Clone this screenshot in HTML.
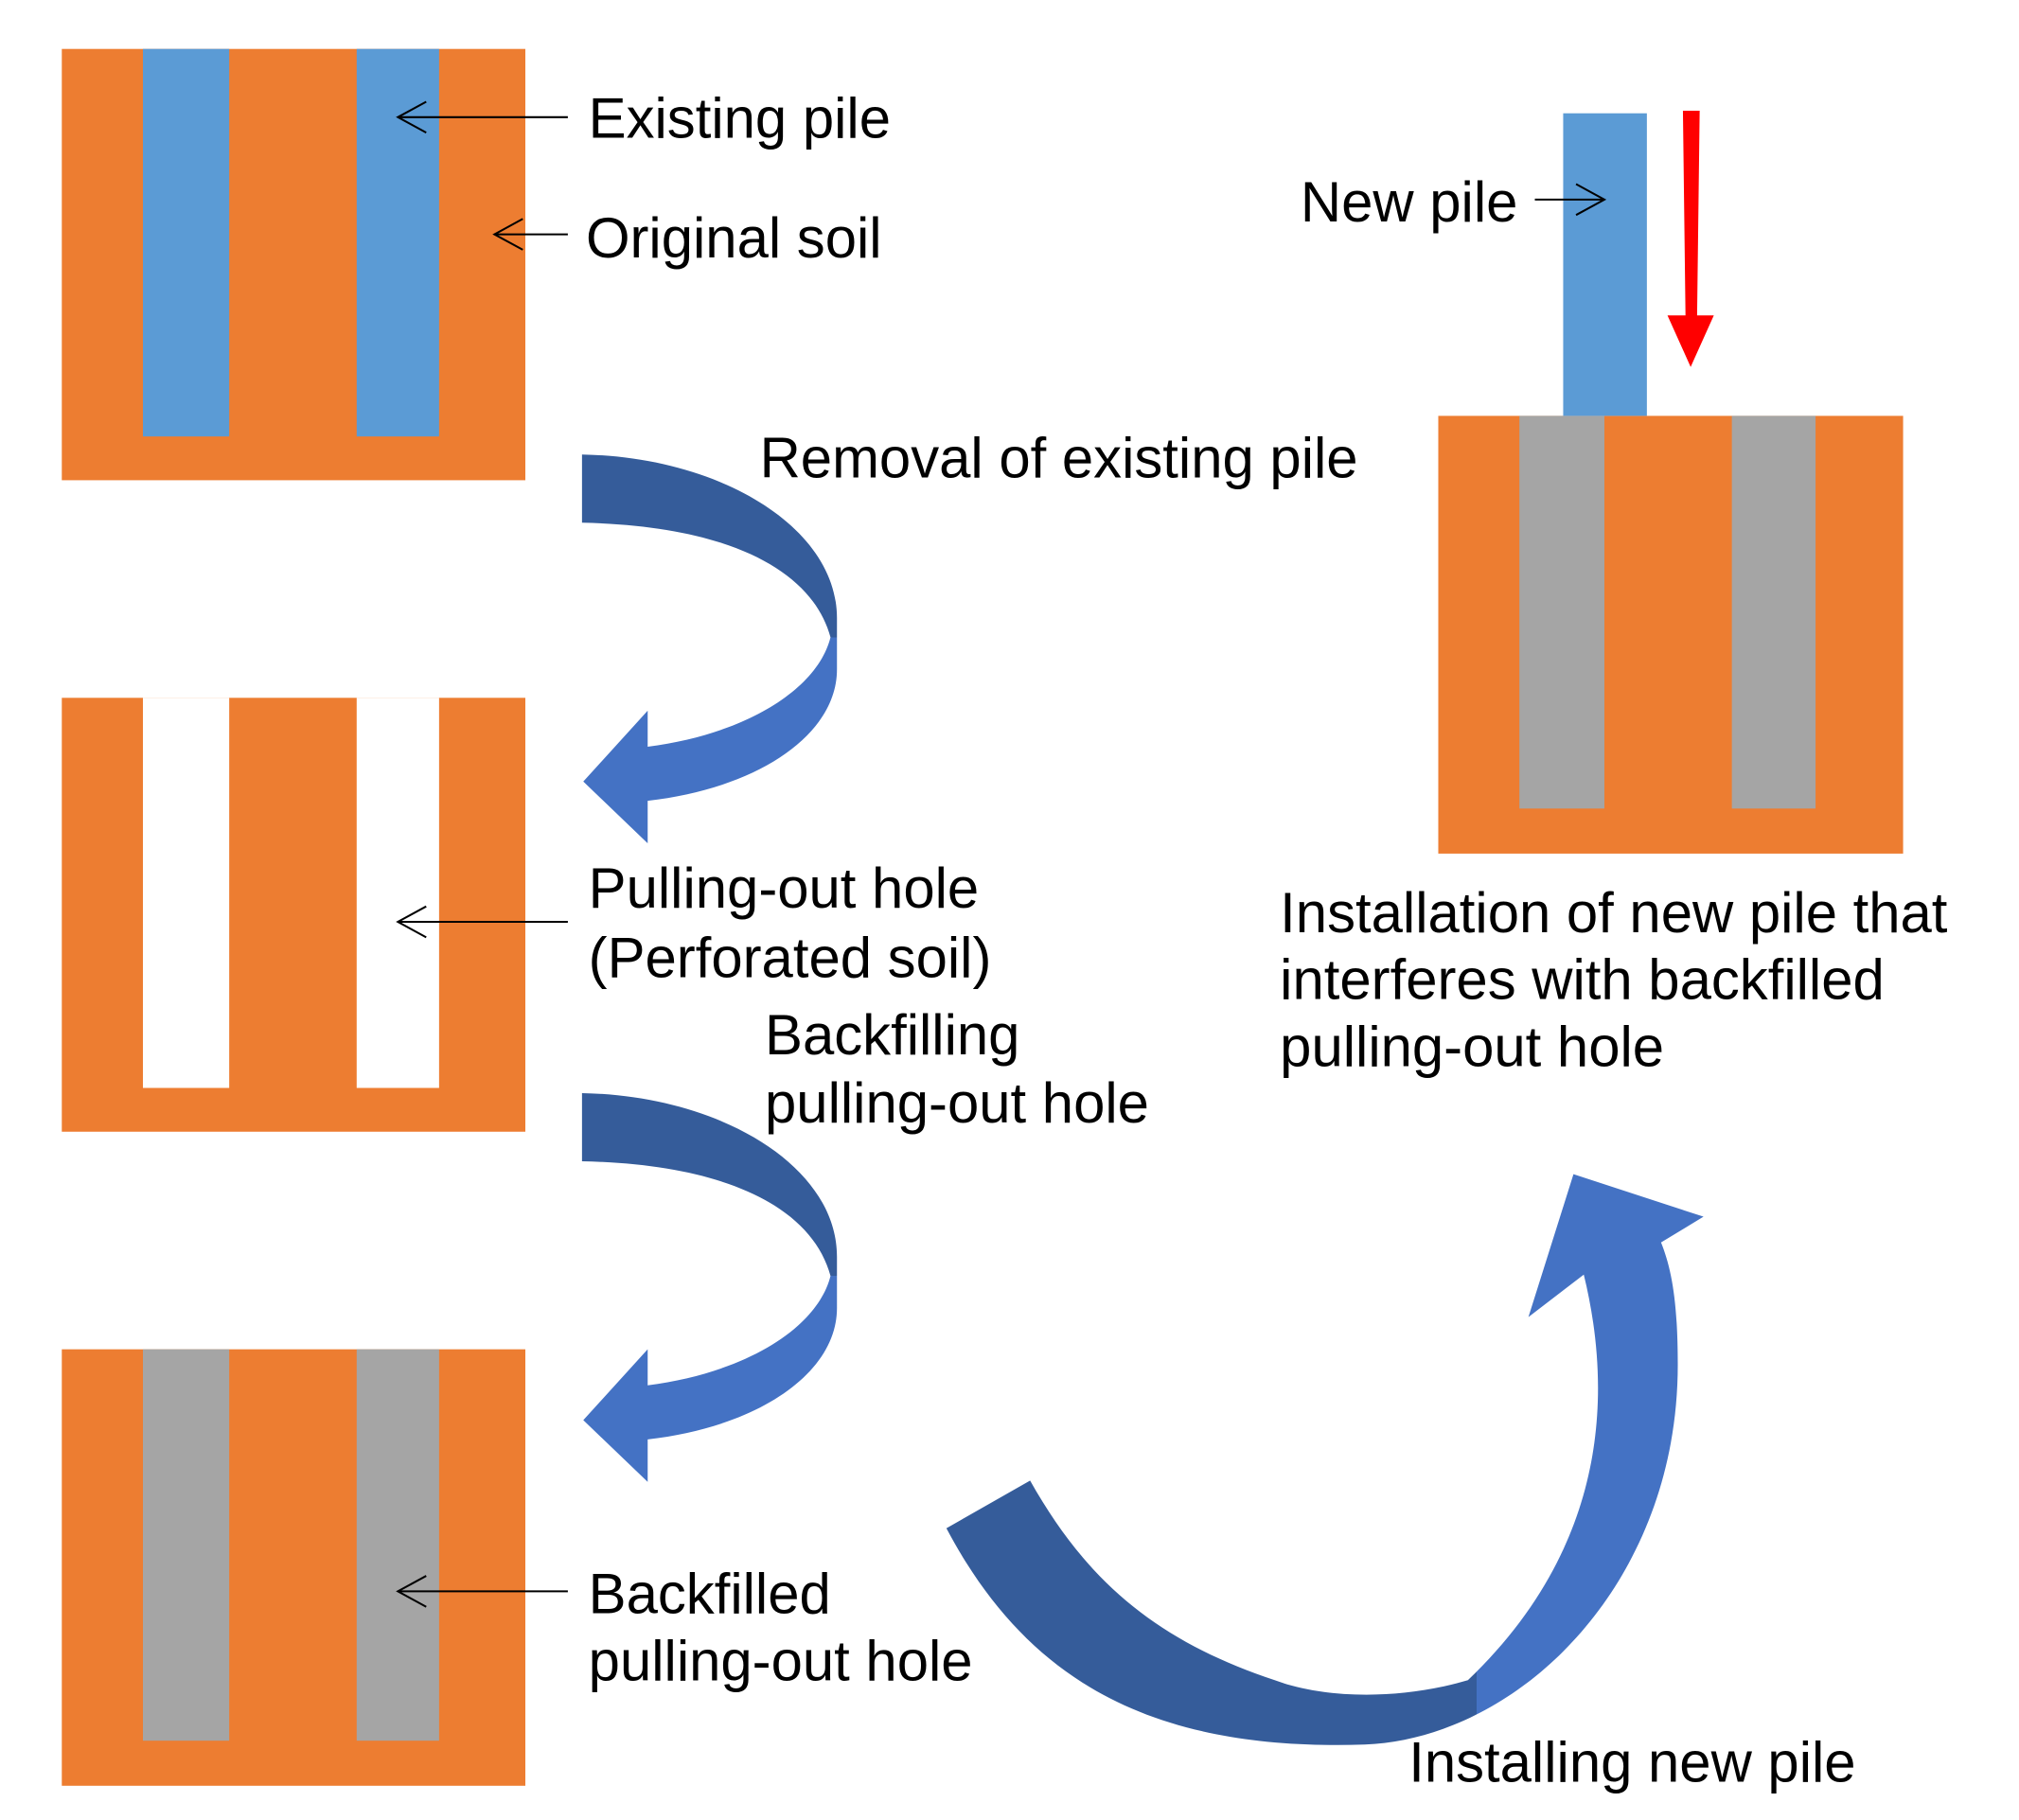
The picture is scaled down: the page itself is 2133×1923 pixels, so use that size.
<!DOCTYPE html>
<html><head><meta charset="utf-8"><style>
html,body{margin:0;padding:0;background:#fff;}
svg{display:block;}
text{font-family:"Liberation Sans",Arial,sans-serif;fill:#000;}
</style></head><body>
<svg width="2133" height="1923" viewBox="0 0 1568 1413.6" preserveAspectRatio="none" xmlns="http://www.w3.org/2000/svg">
<defs>
<linearGradient id="g1" gradientUnits="userSpaceOnUse" x1="0" y1="353" x2="0" y2="655">
<stop offset="0.47" stop-color="#355C9A"/><stop offset="0.47" stop-color="#4472C4"/></linearGradient>
<linearGradient id="g2" gradientUnits="userSpaceOnUse" x1="0" y1="849" x2="0" y2="1151">
<stop offset="0.47" stop-color="#355C9A"/><stop offset="0.47" stop-color="#4472C4"/></linearGradient>
<linearGradient id="g3" gradientUnits="userSpaceOnUse" x1="735" y1="0" x2="1323" y2="0">
<stop offset="0.7" stop-color="#355C9A"/><stop offset="0.7" stop-color="#4472C4"/></linearGradient>
</defs>
<rect x="48" y="38" width="360" height="335" fill="#ED7D31"/>
<rect x="111" y="38" width="67" height="301" fill="#5B9BD5"/>
<rect x="277" y="38" width="64" height="301" fill="#5B9BD5"/>
<rect x="48" y="542" width="360" height="337" fill="#ED7D31"/>
<rect x="111" y="542" width="67" height="303" fill="#fff"/>
<rect x="277" y="542" width="64" height="303" fill="#fff"/>
<rect x="48" y="1048" width="360" height="339" fill="#ED7D31"/>
<rect x="111" y="1048" width="67" height="304" fill="#A5A5A5"/>
<rect x="277" y="1048" width="64" height="304" fill="#A5A5A5"/>
<rect x="1117" y="323" width="361" height="340" fill="#ED7D31"/>
<rect x="1180" y="323" width="66" height="305" fill="#A5A5A5"/>
<rect x="1345" y="323" width="65" height="305" fill="#A5A5A5"/>
<rect x="1214" y="88" width="65" height="235" fill="#5B9BD5"/>
<polygon points="1307,86 1320,86 1318,245 1331,245 1313,285 1295,245 1309,245" fill="#FF0000"/>
<g stroke="#000" stroke-width="1.5" fill="none">
<line x1="441" y1="91" x2="309" y2="91"/><polyline points="331,79 309,91 331,103"/>
<line x1="441" y1="182" x2="384" y2="182"/><polyline points="406,170 384,182 406,194"/>
<line x1="441" y1="716" x2="309" y2="716"/><polyline points="331,704 309,716 331,728"/>
<line x1="441" y1="1236" x2="309" y2="1236"/><polyline points="331,1224 309,1236 331,1248"/>
<line x1="1192" y1="155" x2="1246" y2="155"/><polyline points="1224,143 1246,155 1224,167"/>
</g>
<path d="M452,353 C560,355 650,410 650,480 L650,520 C650,570 590,612 503,622 L503,655 L453,607 L503,552 L503,580 C580,570 635,535 645,495 C630,440 560,408 452,406 Z" fill="url(#g1)"/>
<path d="M452,849 C560,851 650,906 650,976 L650,1016 C650,1066 590,1108 503,1118 L503,1151 L453,1103 L503,1048 L503,1076 C580,1066 635,1031 645,991 C630,936 560,904 452,902 Z" fill="url(#g2)"/>
<path d="M735,1187 C800,1310 900,1360 1060,1355 C1180,1350 1303,1230 1303,1060 C1303,1010 1298,985 1290,965 L1323,945 L1222,912 L1187,1023 L1230,990 C1252,1080 1250,1200 1140,1305 C1090,1320 1030,1320 990,1305 C900,1275 845,1230 800,1150 Z" fill="url(#g3)"/>
<g font-size="44">
<text x="457" y="107">Existing pile</text>
<text x="455" y="200">Original soil</text>
<text x="590" y="371">Removal of existing pile</text>
<text x="457" y="705">Pulling-out hole</text>
<text x="457" y="759">(Perforated soil)</text>
<text x="594" y="819">Backfilling</text>
<text x="594" y="872">pulling-out hole</text>
<text x="457" y="1253">Backfilled</text>
<text x="457" y="1305">pulling-out hole</text>
<text x="1010" y="172">New pile</text>
<text x="994" y="724">Installation of new pile that</text>
<text x="994" y="776">interferes with backfilled</text>
<text x="994" y="828">pulling-out hole</text>
<text x="1094" y="1384">Installing new pile</text>
</g>
</svg>
</body></html>
